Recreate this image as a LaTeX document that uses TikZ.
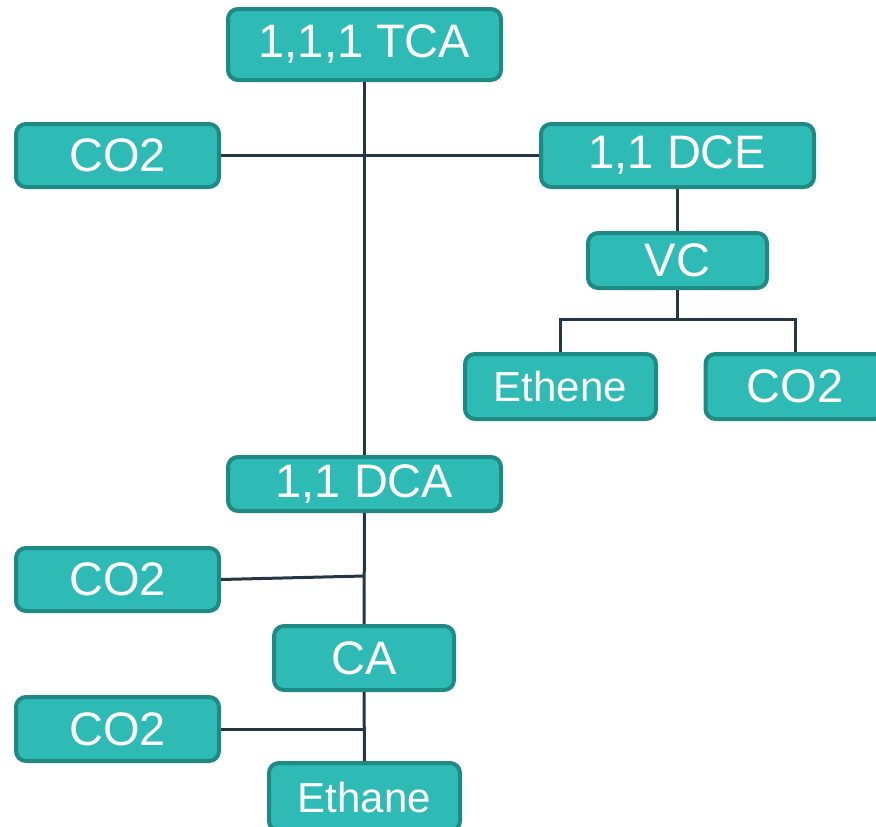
\documentclass[tikz,border=0pt]{standalone}
\usepackage{fontspec}
\setmainfont{Liberation Sans}
\definecolor{boxfill}{HTML}{2EBBB5}
\definecolor{boxline}{HTML}{1E8A83}
\definecolor{linkline}{HTML}{253746}
\tikzset{
  chem/.style={draw=boxline, fill=boxfill, line width=4pt, rounded corners=10pt,
    text=white, inner sep=0pt, font=\fontsize{47}{47}\selectfont},
  small/.style={font=\fontsize{42}{42}\selectfont},
  link/.style={draw=linkline, line width=3pt}
}
\begin{document}
\begin{tikzpicture}[x=1pt,y=-1pt]
      \useasboundingbox (0,0) rectangle (876,827);
      \draw
        (364.5,44.5) node[chem, minimum width=273, minimum height=71] (tca){1,1,1 TCA}
        (117.5,155.5) node[chem, minimum width=203, minimum height=63] (co2a){CO2}
        (677.5,155.5) node[chem, minimum width=273, minimum height=63] (dce){1,1 DCE}
        (677.5,260.5) node[chem, minimum width=179, minimum height=55] (vc){VC}
        (560.5,386.5) node[chem, small, minimum width=191, minimum height=65] (ethene){Ethene}
        (795,386.5) node[chem, minimum width=179, minimum height=65] (co2b){CO2}
        (364.5,484) node[chem, minimum width=273, minimum height=54] (dca){1,1 DCA}
        (117.5,579.5) node[chem, minimum width=203, minimum height=63] (co2c){CO2}
        (364,658) node[chem, minimum width=180, minimum height=64] (ca){CA}
        (117.5,729) node[chem, minimum width=203, minimum height=64] (co2d){CO2}
        (364.5,797) node[chem, small, minimum width=191, minimum height=68] (ethane){Ethane};
      \coordinate (j1) at (364,155.5);
      \coordinate (j2) at (677.5,319);
      \coordinate (j3) at (364,576);
      \coordinate (j4) at (364,729);
      \begin{scope}[link]
        \draw (tca) to (dca);
        \draw (co2a) to (dce);
        \draw (dce) to (vc);
        \draw (vc) to (j2);
        \draw (ethene.north) |- (j2) -| (co2b.north);
        \draw (dca) to (ca);
        \draw (co2c.east) to (j3);
        \draw (ca) to (ethane);
        \draw (co2d) to (j4);
      \end{scope}
    \end{tikzpicture}
\end{document}
